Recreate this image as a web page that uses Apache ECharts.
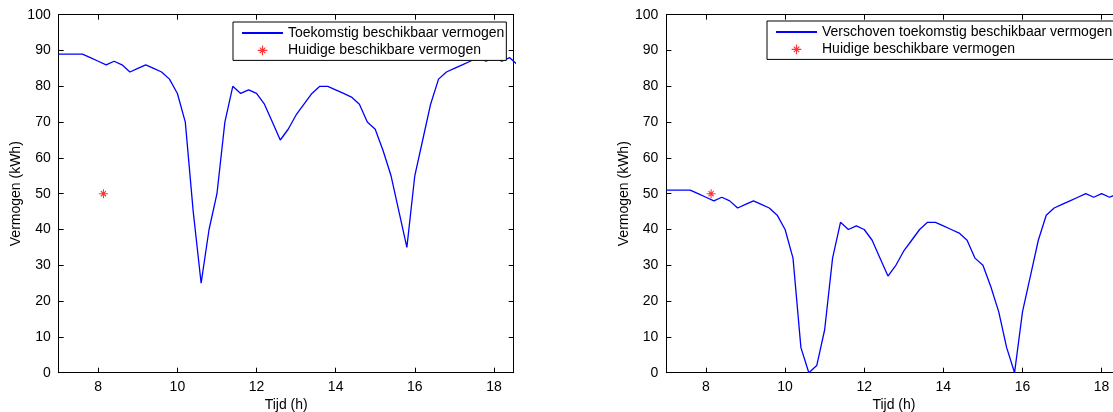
<!DOCTYPE html>
<html>
<head>
<meta charset="utf-8">
<script src="https://cdn.jsdelivr.net/npm/echarts@6/dist/echarts.min.js"></script>
<style>
html,body{margin:0;padding:0;background:#fff;}
#chart{width:1113px;height:412px;}
</style>
</head>
<body>
<div id="chart"></div>
<script>
// Time (h)
var times = [7, 7.2, 7.4, 7.6, 7.8, 8, 8.2, 8.4, 8.6, 8.8,
  9, 9.2, 9.4, 9.6, 9.8, 10, 10.2, 10.4, 10.6, 10.8,
  11, 11.2, 11.4, 11.6, 11.8, 12, 12.2, 12.4, 12.6, 12.8,
  13, 13.2, 13.4, 13.6, 13.8, 14, 14.2, 14.4, 14.6, 14.8,
  15, 15.2, 15.4, 15.6, 15.8, 16, 16.2, 16.4, 16.6, 16.8,
  17, 17.2, 17.4, 17.6, 17.8, 18, 18.2, 18.4, 18.6];
// Toekomstig beschikbaar vermogen (kWh)
var futurePower = [89, 89, 89, 89, 88, 87, 86, 87, 86, 84,
  85, 86, 85, 84, 82, 78, 70, 45, 25, 40,
  50, 70, 80, 78, 79, 78, 75, 70, 65, 68,
  72, 75, 78, 80, 80, 79, 78, 77, 75, 70,
  68, 62, 55, 45, 35, 55, 65, 75, 82, 84,
  85, 86, 87, 88, 87, 88, 87, 88, 86];
// Verschoven toekomstig beschikbaar vermogen (kWh)
var shiftedPower = [51, 51, 51, 51, 50, 49, 48, 49, 48, 46,
  47, 48, 47, 46, 44, 40, 32, 7, 0, 2,
  12, 32, 42, 40, 41, 40, 37, 32, 27, 30,
  34, 37, 40, 42, 42, 41, 40, 39, 37, 32,
  30, 24, 17, 7, 0, 17, 27, 37, 44, 46,
  47, 48, 49, 50, 49, 50, 49, 50, 48];
// Huidige beschikbare vermogen
var currentPoint = [8.13, 50];
var xTicks = [8, 10, 12, 14, 16, 18];
var xRange = [7, 18.5];
var yRange = [0, 100];

var nameA = 'Toekomstig beschikbaar vermogen';
var nameB = 'Verschoven toekomstig beschikbaar vermogen';
var nameC = 'Huidige beschikbare vermogen';

var FONT = "'Liberation Sans', Arial, Helvetica, sans-serif";
var star = 'path://M-0.12,-1L0.12,-1L0.12,1L-0.12,1Z' +
  'M-1,-0.12L1,-0.12L1,0.12L-1,0.12Z' +
  'M-0.4808,-0.6506L0.6506,0.4808L0.4808,0.6506L-0.6506,-0.4808Z' +
  'M-0.6506,0.4808L0.4808,-0.6506L0.6506,-0.4808L-0.4808,0.6506Z';
var starLegend = star + 'M-1.45,-1.45L-1.45,-1.45Z M1.45,1.45L1.45,1.45Z';

function zip(xs, ys) { return xs.map(function (x, i) { return [x, ys[i]]; }); }

var grids = [
  { left: 58.7, top: 14.7, width: 455, height: 358, outerBoundsMode: 'none', containLabel: false },
  { left: 666.4, top: 14.7, width: 455, height: 358, outerBoundsMode: 'none', containLabel: false }
];

function xAxes(gi) {
  var base = {
    gridIndex: gi, type: 'value', min: xRange[0], max: xRange[1],
    axisLine: { show: true, onZero: false, lineStyle: { color: '#000', width: 1 } },
    axisTick: { show: true, inside: true, length: 5, customValues: xTicks, lineStyle: { color: '#000' } },
    splitLine: { show: false }
  };
  var bottom = Object.assign({}, base, {
    position: 'bottom',
    axisLabel: { show: true, customValues: xTicks, margin: 7, color: '#000', fontSize: 14, fontFamily: FONT },
    name: 'Tijd (h)', nameLocation: 'middle', nameGap: 21,
    nameTextStyle: { color: '#000', fontSize: 14, fontFamily: FONT }
  });
  var top = Object.assign({}, base, { position: 'top', axisLabel: { show: false } });
  return [bottom, top];
}
function yAxes(gi) {
  var base = {
    gridIndex: gi, type: 'value', min: yRange[0], max: yRange[1], interval: 10,
    axisLine: { show: true, onZero: false, lineStyle: { color: '#000', width: 1 } },
    axisTick: { show: true, inside: true, length: 5, lineStyle: { color: '#000' } },
    splitLine: { show: false }
  };
  var left = Object.assign({}, base, {
    position: 'left',
    axisLabel: { show: true, margin: 8, color: '#000', fontSize: 14, fontFamily: FONT },
    name: 'Vermogen (kWh)', nameLocation: 'middle', nameGap: 31,
    nameTextStyle: { color: '#000', fontSize: 14, fontFamily: FONT }
  });
  var right = Object.assign({}, base, { position: 'right', axisLabel: { show: false } });
  return [left, right];
}

function legend(left, top, lineName) {
  return {
    orient: 'vertical', left: left, top: top,
    backgroundColor: '#fff', borderColor: '#000', borderWidth: 1,
    padding: [4, 2, 3, 8], itemWidth: 41, itemHeight: 14, itemGap: 3.4,
    selectedMode: false,
    textStyle: { color: '#000', fontSize: 14, fontFamily: FONT, lineHeight: 14 },
    data: [
      { name: lineName, itemStyle: { opacity: 0 } },
      { name: nameC, icon: starLegend }
    ]
  };
}

var option = {
  animation: false,
  backgroundColor: '#fff',
  grid: grids,
  xAxis: xAxes(0).concat(xAxes(1)),
  yAxis: yAxes(0).concat(yAxes(1)),
  legend: [legend(233, 22, nameA), legend(767, 21, nameB)],
  series: [
    { name: nameA, type: 'line', xAxisIndex: 0, yAxisIndex: 0, data: zip(times, futurePower),
      symbol: 'none', lineStyle: { color: '#0000ff', width: 1.3 }, itemStyle: { color: '#0000ff' }, clip: true },
    { name: nameC, type: 'scatter', xAxisIndex: 0, yAxisIndex: 0, data: [currentPoint],
      symbol: star, symbolSize: 9, itemStyle: { color: '#ff0000' } },
    { name: nameB, type: 'line', xAxisIndex: 2, yAxisIndex: 2, data: zip(times, shiftedPower),
      symbol: 'none', lineStyle: { color: '#0000ff', width: 1.3 }, itemStyle: { color: '#0000ff' }, clip: true },
    { name: nameC, type: 'scatter', xAxisIndex: 2, yAxisIndex: 2, data: [currentPoint],
      symbol: star, symbolSize: 9, itemStyle: { color: '#ff0000' } }
  ]
};
var chart = echarts.init(document.getElementById('chart'), null, { renderer: 'canvas' });
chart.setOption(option);
</script>
</body>
</html>
